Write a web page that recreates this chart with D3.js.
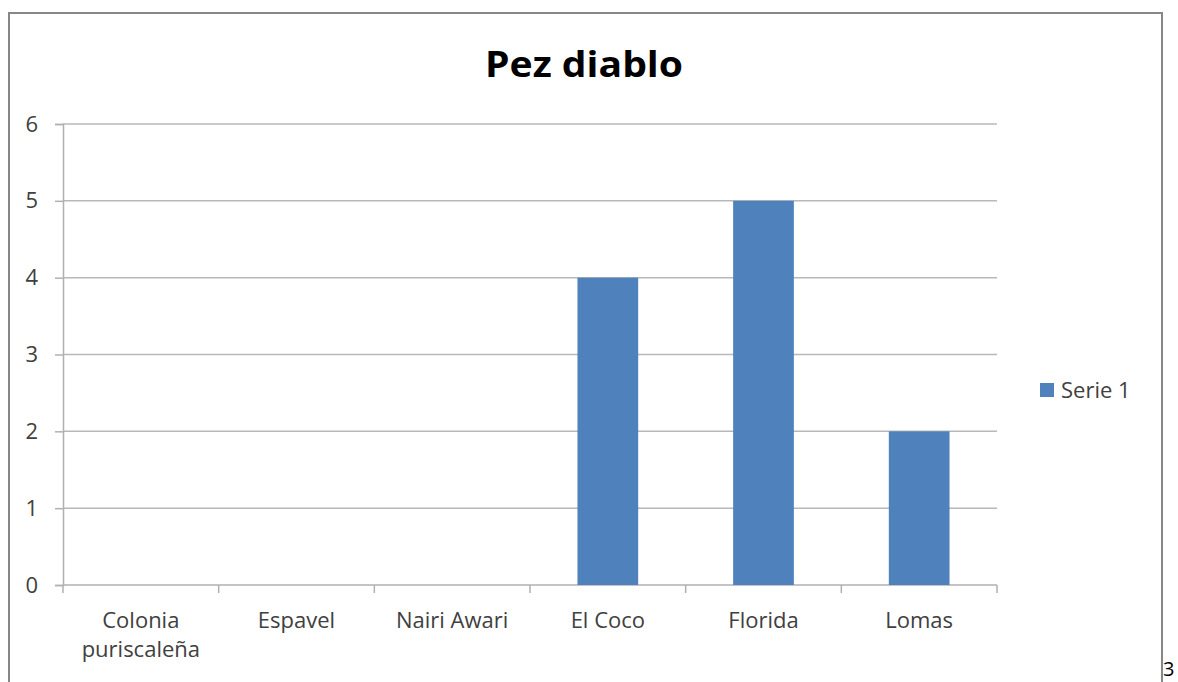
<!DOCTYPE html>
<html>
<head>
<meta charset="utf-8">
<script src="https://cdn.jsdelivr.net/npm/d3@7"></script>
<style>
  html, body { margin: 0; padding: 0; background: #fff; }
  svg { display: block; }
  text { font-family: "Open Sans", "Noto Sans", sans-serif; }
</style>
</head>
<body>
<svg id="chart" width="1178" height="682"></svg>
<script>
// Chart data
const categories = [["Colonia", "puriscaleña"], ["Espavel"], ["Nairi Awari"], ["El Coco"], ["Florida"], ["Lomas"]];
const values = [0, 0, 0, 4, 5, 2];
const yTicks = [0, 1, 2, 3, 4, 5, 6];
const seriesName = "Serie 1";
const chartTitle = "Pez diablo";
const pageNumber = "3";

const svg = d3.select("#chart");
const labelSize = 22;
const labelColor = "#404040";

// Plot area
const plot = { left: 63, right: 997, top: 124, bottom: 585 };

const x = d3.scaleBand()
  .domain(categories.map((c, i) => i))
  .range([plot.left, plot.right])
  .paddingInner(0.61)
  .paddingOuter(0.305);

const xCat = d3.scaleBand()
  .domain(categories.map((c, i) => i))
  .range([plot.left, plot.right])
  .padding(0);

const y = d3.scaleLinear().domain([0, 6]).range([plot.bottom, plot.top]);

// Chart frame
svg.append("rect")
  .attr("x", 9).attr("y", 13)
  .attr("width", 1153).attr("height", 690)
  .attr("fill", "#fff")
  .attr("stroke", "#878787")
  .attr("stroke-width", 2);

// Title
svg.append("text")
  .attr("x", 584).attr("y", 77)
  .attr("text-anchor", "middle")
  .attr("font-size", 36)
  .attr("font-weight", 700)
  .attr("fill", "#000")
  .attr("textLength", 198)
  .attr("lengthAdjust", "spacingAndGlyphs")
  .text(chartTitle);

// Horizontal gridlines
svg.append("g")
  .selectAll("line")
  .data(yTicks.filter(d => d > 0))
  .join("line")
  .attr("x1", plot.left).attr("x2", plot.right)
  .attr("y1", d => y(d)).attr("y2", d => y(d))
  .attr("stroke", "#b8b8b8")
  .attr("stroke-width", 1.5);

// Y axis
const yAxis = d3.axisLeft(y).tickValues(yTicks).tickSize(8).tickPadding(17).tickFormat(d3.format("d"));
const gy = svg.append("g").attr("transform", `translate(${plot.left},0)`).call(yAxis);
gy.select(".domain").attr("stroke", "#b0b0b0").attr("stroke-width", 1.5);
gy.selectAll(".tick line").attr("stroke", "#b0b0b0").attr("stroke-width", 1.5);
gy.selectAll(".tick text")
  .attr("font-size", labelSize)
  .attr("fill", labelColor)
  .attr("font-family", "'Open Sans', sans-serif");

// X axis (category boundaries as ticks)
const gx = svg.append("g");
gx.append("line")
  .attr("x1", plot.left).attr("x2", plot.right)
  .attr("y1", plot.bottom).attr("y2", plot.bottom)
  .attr("stroke", "#b0b0b0").attr("stroke-width", 1.5);
const bounds = d3.range(categories.length + 1).map(i => i < categories.length ? xCat(i) : xCat(i - 1) + xCat.bandwidth());
gx.selectAll("line.tk")
  .data(bounds)
  .join("line")
  .attr("class", "tk")
  .attr("x1", d => d).attr("x2", d => d)
  .attr("y1", plot.bottom).attr("y2", plot.bottom + 8)
  .attr("stroke", "#b0b0b0").attr("stroke-width", 1.5);

// Category labels
const labels = gx.selectAll("text.cat")
  .data(categories)
  .join("text")
  .attr("class", "cat")
  .attr("x", (d, i) => xCat(i) + xCat.bandwidth() / 2)
  .attr("y", 628)
  .attr("text-anchor", "middle")
  .attr("font-size", labelSize)
  .attr("fill", labelColor);
labels.selectAll("tspan")
  .data(d => d)
  .join("tspan")
  .attr("x", function () { return d3.select(this.parentNode).attr("x"); })
  .attr("dy", (d, i) => i === 0 ? 0 : 29)
  .text(d => d);

// Bars
svg.append("g")
  .selectAll("rect")
  .data(values)
  .join("rect")
  .attr("x", (d, i) => x(i))
  .attr("width", x.bandwidth())
  .attr("y", d => y(d))
  .attr("height", d => y(0) - y(d))
  .attr("fill", "#4F81BD");

// Legend
const lg = svg.append("g");
lg.append("rect")
  .attr("x", 1040).attr("y", 383)
  .attr("width", 14).attr("height", 14)
  .attr("fill", "#4F81BD");
lg.append("text")
  .attr("x", 1061).attr("y", 398)
  .attr("font-size", labelSize)
  .attr("fill", labelColor)
  .text(seriesName);

// Page number outside the chart frame
svg.append("text")
  .attr("x", 1163).attr("y", 676)
  .attr("font-family", "'Liberation Sans', Arial, sans-serif")
  .attr("font-size", 20)
  .attr("fill", "#000")
  .text(pageNumber);
</script>
</body>
</html>
